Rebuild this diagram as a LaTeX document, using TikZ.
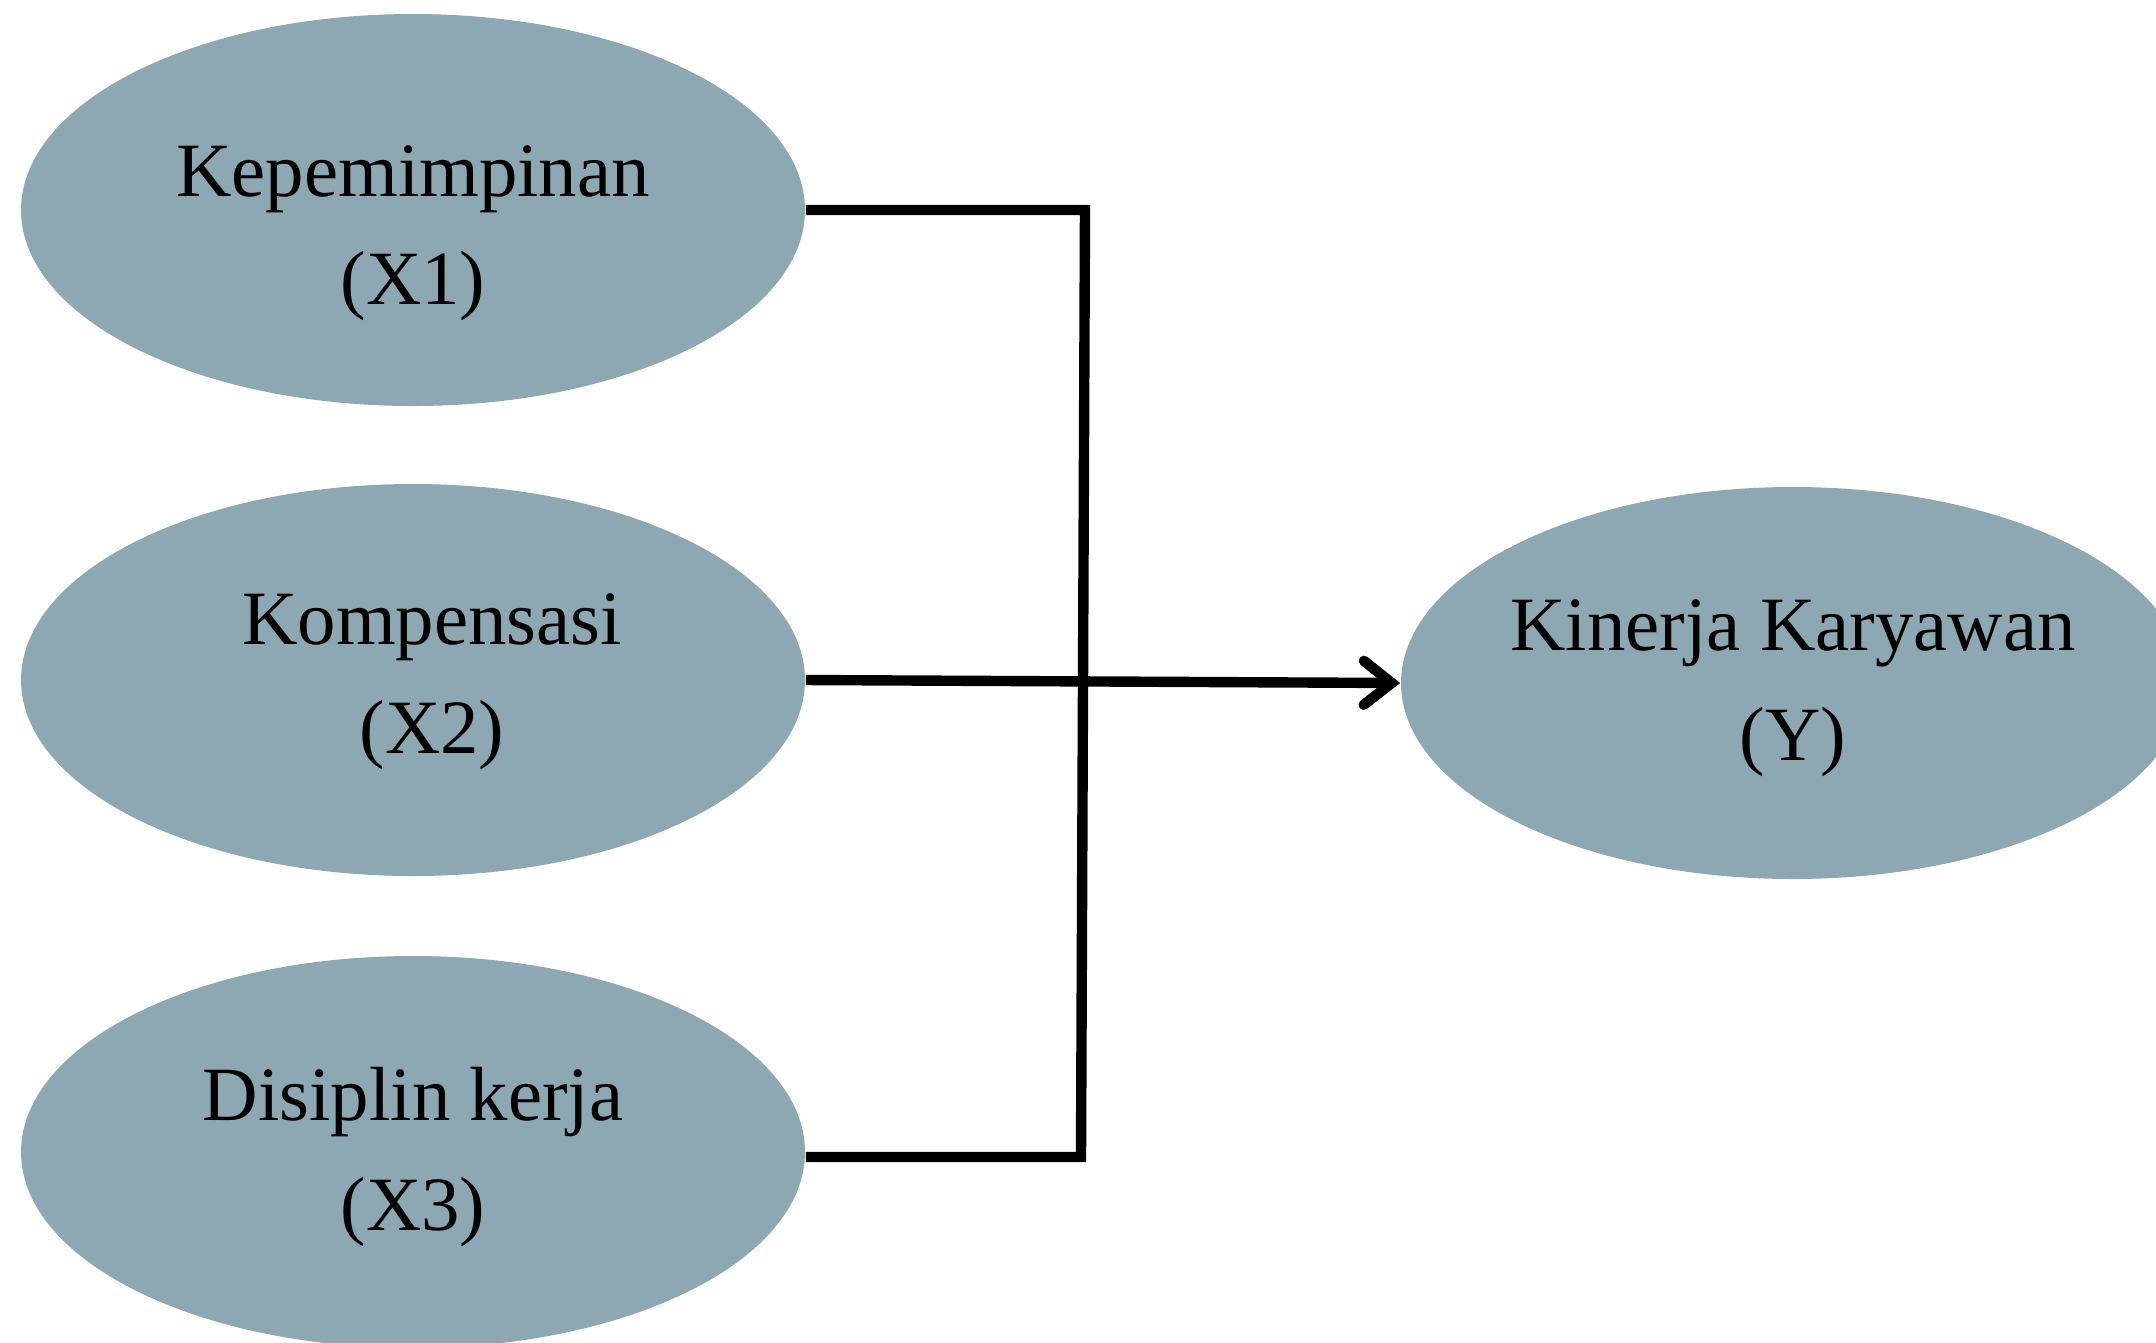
\documentclass[tikz,border=0pt]{standalone}
\usepackage{fontspec}
\setmainfont{Liberation Serif}
\usetikzlibrary{arrows.meta,shapes.geometric}
\definecolor{ellfill}{RGB}{141,168,178}
\begin{document}
\begin{tikzpicture}[x=0.25pt,y=-0.25pt,
  var/.style={ellipse,fill=ellfill,draw=none,minimum width=196pt,minimum height=98pt,inner sep=0pt},
  lbl/.style={anchor=base,inner sep=0pt,font=\fontsize{19.2}{22}\selectfont},
  conn/.style={line width=2.6pt,draw=black,line join=miter}]
\useasboundingbox (0,0) rectangle (2156,1342);
\begin{scope}
\clip (0,0) rectangle (2156,1342);
\node[var] (e1) at (413,210) {};
\node[var] (e2) at (413,680) {};
\node[var] (e3) at (413,1152) {};
\node[var] (y) at (1793,683) {};
\end{scope}
\node[lbl] (t1a) at (413,196) {Kepemimpinan};
\node[lbl] (t1b) at (413,304) {(X1)};
\node[lbl] (t2a) at (432,644) {Kompensasi};
\node[lbl] (t2b) at (432,753) {(X2)};
\node[lbl] (t3a) at (413,1120) {Disiplin kerja};
\node[lbl] (t3b) at (413,1230) {(X3)};
\node[lbl] (tya) at (1793,650) {Kinerja Karyawan};
\node[lbl] (tyb) at (1793,760) {(Y)};
\coordinate (j1) at (1085,210);
\coordinate (j3) at (1081,1157);
\draw[conn] (e1.east) -- (j1) -- (j3) -- (j3 -| e3.east);
\draw[conn,-{Straight Barb[length=7pt,width=11pt,line cap=round]}] (e2.east) -- (y.west);
\end{tikzpicture}
\end{document}
